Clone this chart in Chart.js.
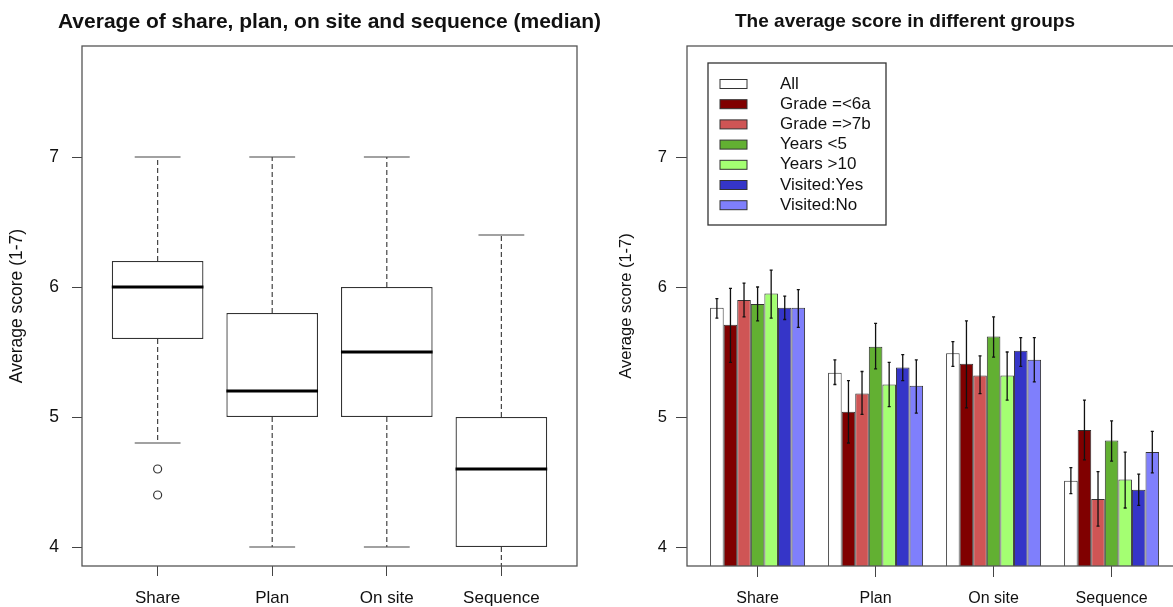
<!DOCTYPE html>
<html>
<head>
<meta charset="utf-8">
<script src="https://cdn.jsdelivr.net/npm/chart.js@4"></script>
<style>
html, body { margin: 0; padding: 0; background: #fff; overflow: hidden; width: 1173px; height: 607px; }
#left { position: absolute; left: 0; top: 0; width: 659px; height: 607px; }
#right { position: absolute; left: 600px; top: 0; width: 610px; height: 607px; }
</style>
</head>
<body>
<div id="left"><canvas id="boxChart"></canvas></div>
<div id="right"><canvas id="barChart"></canvas></div>
<script>
// categories + y ticks (shared by both panels)
const categories = ['Share', 'Plan', 'On site', 'Sequence'];
const yTicks = [4, 5, 6, 7];

// box plot (left panel)
const boxMin = [4.8, 4.0, 4.0, 3.0];
const boxQ1 = [5.6, 5.0, 5.0, 4.0];
const boxMedian = [6.0, 5.2, 5.5, 4.6];
const boxQ3 = [6.2, 5.8, 6.0, 5.0];
const boxMax = [7.0, 7.0, 7.0, 6.4];
const boxOutliers = [[4.6, 4.4], [], [], []];

// group means and error bar ends (right panel)
const groupLabels = ['All', 'Grade =<6a', 'Grade =>7b', 'Years <5', 'Years >10', 'Visited:Yes', 'Visited:No'];
const meanAll = [5.84, 5.34, 5.49, 4.51];
const meanGradeLow = [5.71, 5.04, 5.41, 4.90];
const meanGradeHigh = [5.90, 5.18, 5.32, 4.37];
const meanYearsLow = [5.87, 5.54, 5.62, 4.82];
const meanYearsHigh = [5.95, 5.25, 5.32, 4.52];
const meanVisitedYes = [5.84, 5.38, 5.51, 4.44];
const meanVisitedNo = [5.84, 5.24, 5.44, 4.73];

const upperAll = [5.91, 5.44, 5.58, 4.61];
const upperGradeLow = [5.99, 5.28, 5.74, 5.13];
const upperGradeHigh = [6.03, 5.35, 5.47, 4.58];
const upperYearsLow = [6.00, 5.72, 5.77, 4.97];
const upperYearsHigh = [6.13, 5.42, 5.50, 4.73];
const upperVisitedYes = [5.93, 5.48, 5.61, 4.56];
const upperVisitedNo = [5.98, 5.44, 5.61, 4.89];

const lowerAll = [5.76, 5.25, 5.39, 4.41];
const lowerGradeLow = [5.42, 4.80, 5.07, 4.67];
const lowerGradeHigh = [5.77, 5.02, 5.18, 4.16];
const lowerYearsLow = [5.74, 5.37, 5.46, 4.66];
const lowerYearsHigh = [5.76, 5.08, 5.13, 4.30];
const lowerVisitedYes = [5.75, 5.28, 5.39, 4.32];
const lowerVisitedNo = [5.69, 5.03, 5.27, 4.57];

const seriesColors = ['#ffffff', '#800000', '#cf5555', '#62b032', '#a4ff72', '#3535c8', '#7f7ffc'];

Chart.defaults.font.family = '"Liberation Sans", Arial, Helvetica, sans-serif';
Chart.defaults.color = '#111';
Chart.defaults.animation = false;

const axisGrey = '#444';

// outline around the plot area, like R's box()
const frame = {
    id: 'frame',
    afterDraw(chart) {
        const { ctx, chartArea: a } = chart;
        ctx.save();
        ctx.strokeStyle = '#555';
        ctx.lineWidth = 1.3;
        ctx.strokeRect(a.left, a.top, a.width, a.height);
        ctx.restore();
    }
};

// whiskers + medians on top of the floating bars
const boxExtras = {
    id: 'boxExtras',
    afterDatasetsDraw(chart) {
        const { ctx, chartArea: a, scales: { x, y } } = chart;
        const boxes = chart.getDatasetMeta(0).data;
        ctx.save();
        ctx.beginPath();
        ctx.rect(a.left, a.top, a.width, a.height);
        ctx.clip();
        categories.forEach((c, i) => {
            const cx = x.getPixelForValue(i + 1);
            const half = boxes[i].width / 2;
            ctx.strokeStyle = axisGrey;
            ctx.lineWidth = 1.2;
            ctx.setLineDash([5, 3]);
            ctx.beginPath();
            ctx.moveTo(cx, y.getPixelForValue(boxQ3[i]));
            ctx.lineTo(cx, y.getPixelForValue(boxMax[i]));
            ctx.moveTo(cx, y.getPixelForValue(boxQ1[i]));
            ctx.lineTo(cx, y.getPixelForValue(boxMin[i]));
            ctx.stroke();
            ctx.setLineDash([]);
            ctx.beginPath();
            [boxMax[i], boxMin[i]].forEach(v => {
                const py = y.getPixelForValue(v);
                ctx.moveTo(cx - half / 2, py);
                ctx.lineTo(cx + half / 2, py);
            });
            ctx.stroke();
            const my = y.getPixelForValue(boxMedian[i]);
            ctx.strokeStyle = '#000';
            ctx.lineWidth = 3;
            ctx.beginPath();
            ctx.moveTo(cx - half, my);
            ctx.lineTo(cx + half, my);
            ctx.stroke();
        });
        ctx.restore();
    }
};

const errorBars = {
    id: 'errorBars',
    afterDatasetsDraw(chart) {
        const { ctx, scales: { y } } = chart;
        ctx.save();
        ctx.strokeStyle = '#111';
        ctx.lineWidth = 1.3;
        chart.data.datasets.forEach((ds, di) => {
            chart.getDatasetMeta(di).data.forEach((bar, i) => {
                const top = y.getPixelForValue(ds.errUpper[i]);
                const bot = y.getPixelForValue(ds.errLower[i]);
                ctx.beginPath();
                ctx.moveTo(bar.x, top);
                ctx.lineTo(bar.x, bot);
                ctx.moveTo(bar.x - 1.5, top);
                ctx.lineTo(bar.x + 1.5, top);
                ctx.moveTo(bar.x - 1.5, bot);
                ctx.lineTo(bar.x + 1.5, bot);
                ctx.stroke();
            });
        });
        ctx.restore();
    }
};

// R style legend box in the top left corner of the plot
const boxedLegend = {
    id: 'boxedLegend',
    afterDraw(chart) {
        const { ctx, chartArea: a } = chart;
        const left = a.left + 21, top = a.top + 17, w = 178, h = 162, pitch = 20.2;
        ctx.save();
        ctx.fillStyle = '#fff';
        ctx.fillRect(left, top, w, h);
        ctx.strokeStyle = '#333';
        ctx.lineWidth = 1.3;
        ctx.strokeRect(left, top, w, h);
        ctx.font = '17px "Liberation Sans", Arial, sans-serif';
        ctx.textBaseline = 'middle';
        chart.data.datasets.forEach((ds, i) => {
            const cy = top + 21 + i * pitch;
            ctx.fillStyle = ds.backgroundColor;
            ctx.fillRect(left + 12, cy - 4.5, 27, 9);
            ctx.strokeStyle = '#333';
            ctx.lineWidth = 1;
            ctx.strokeRect(left + 12, cy - 4.5, 27, 9);
            ctx.fillStyle = '#111';
            ctx.fillText(ds.label, left + 72, cy);
        });
        ctx.restore();
    }
};

function yAxis(width, fontSize, titlePad, labelPad, tickLen) {
    return {
        type: 'linear',
        min: 3.854,
        max: 7.854,
        afterBuildTicks: s => { s.ticks = yTicks.map(v => ({ value: v })); },
        afterFit: s => { s.width = width; },
        title: { display: true, text: 'Average score (1-7)', font: { size: fontSize }, padding: { top: titlePad, bottom: 0 } },
        ticks: { padding: labelPad, font: { size: fontSize } },
        grid: { drawOnChartArea: false, tickLength: tickLen, tickColor: axisGrey },
        border: { display: false }
    };
}

function xAxis(min, max, fontSize, tickLen) {
    return {
        type: 'linear',
        min: min,
        max: max,
        offset: false,
        afterBuildTicks: s => { s.ticks = categories.map((c, i) => ({ value: i + 1 })); },
        afterFit: s => { s.height = 41; },
        ticks: { callback: v => categories[v - 1], autoSkip: false, maxRotation: 0, padding: 12, font: { size: fontSize } },
        grid: { offset: false, drawOnChartArea: false, tickLength: tickLen, tickColor: axisGrey },
        border: { display: false }
    };
}

new Chart(document.getElementById('boxChart'), {
    type: 'bar',
    data: {
        datasets: [{
            label: 'IQR',
            data: categories.map((c, i) => ({ x: i + 1, y: [boxQ1[i], boxQ3[i]] })),
            backgroundColor: '#fff',
            borderColor: '#333',
            borderWidth: 1.3,
            borderSkipped: false,
            barPercentage: 0.8,
            categoryPercentage: 1
        }, {
            type: 'scatter',
            label: 'Outliers',
            data: boxOutliers.flatMap((vals, i) => vals.map(v => ({ x: i + 1, y: v }))),
            pointStyle: 'circle',
            radius: 4,
            borderColor: '#333',
            backgroundColor: 'rgba(0,0,0,0)',
            borderWidth: 1.2
        }]
    },
    options: {
        responsive: true,
        maintainAspectRatio: false,
        layout: { padding: 0 },
        scales: {
            x: xAxis(0.34, 4.66, 17, 10),
            y: yAxis(82, 17.5, 7, 13, 10),
            // empty right margin so the title centres over the plot box
            spacer: {
                type: 'linear',
                position: 'right',
                ticks: { display: false },
                grid: { display: false },
                border: { display: false },
                afterFit: s => { s.width = 82; }
            }
        },
        plugins: {
            legend: { display: false },
            tooltip: { enabled: false },
            title: {
                display: true,
                text: 'Average of share, plan, on site and sequence (median)',
                font: { size: 21, weight: 'bold' },
                padding: { top: 9.4, bottom: 11.4 },
                color: '#111'
            }
        }
    },
    plugins: [boxExtras, frame]
});

const means = [meanAll, meanGradeLow, meanGradeHigh, meanYearsLow, meanYearsHigh, meanVisitedYes, meanVisitedNo];
const uppers = [upperAll, upperGradeLow, upperGradeHigh, upperYearsLow, upperYearsHigh, upperVisitedYes, upperVisitedNo];
const lowers = [lowerAll, lowerGradeLow, lowerGradeHigh, lowerYearsLow, lowerYearsHigh, lowerVisitedYes, lowerVisitedNo];

new Chart(document.getElementById('barChart'), {
    type: 'bar',
    data: {
        datasets: groupLabels.map((label, s) => ({
            label: label,
            data: means[s].map((v, i) => ({ x: i + 1, y: v })),
            errUpper: uppers[s],
            errLower: lowers[s],
            backgroundColor: seriesColors[s],
            borderColor: '#333',
            borderWidth: 1,
            barPercentage: 1,
            categoryPercentage: 0.805
        }))
    },
    options: {
        responsive: true,
        maintainAspectRatio: false,
        layout: { padding: 0 },
        scales: {
            x: xAxis(0.4017, 4.834, 16, 11),
            y: yAxis(87, 16.5, 17, 9, 11)
        },
        plugins: {
            legend: { display: false },
            tooltip: { enabled: false },
            title: {
                display: true,
                text: 'The average score in different groups',
                font: { size: 19, weight: 'bold' },
                padding: { top: 10.6, bottom: 12.6 },
                color: '#111'
            }
        }
    },
    plugins: [errorBars, boxedLegend, frame]
});
</script>
</body>
</html>
